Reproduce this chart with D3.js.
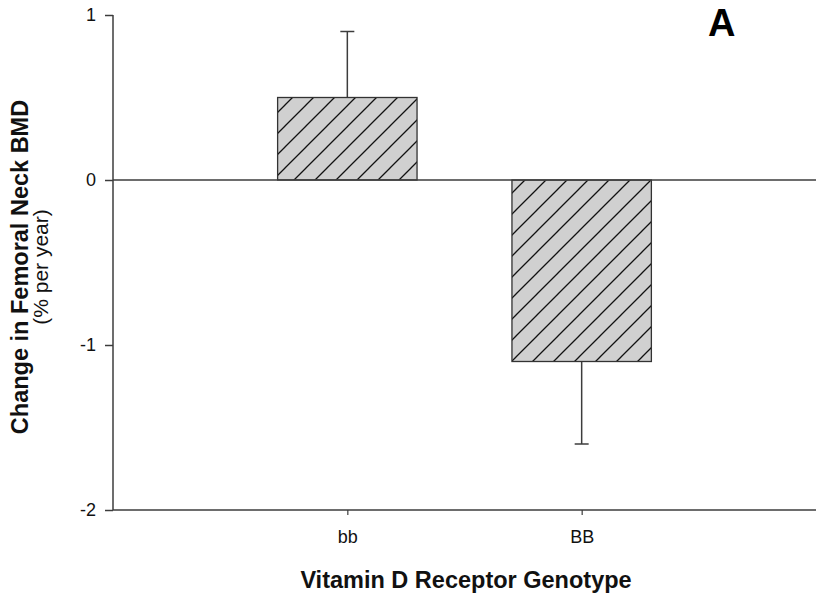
<!DOCTYPE html>
<html>
<head>
<meta charset="utf-8">
<script src="https://cdn.jsdelivr.net/npm/d3@7"></script>
<style>
  html, body { margin: 0; padding: 0; background: #fff; }
  svg { display: block; font-family: "Liberation Sans", Arial, Helvetica, sans-serif; }
</style>
</head>
<body>
<svg id="chart" width="816" height="597"></svg>
<script>
const categories = ["bb", "BB"];
const values = [0.5, -1.1];
const errors = [0.4, 0.5];
const yTicks = [-2, -1, 0, 1];
const yTickLabels = ["-2", "-1", "0", "1"];
const xTitle = "Vitamin D Receptor Genotype";
const yTitle = "Change in Femoral Neck BMD";
const ySubTitle = "(% per year)";
const panelLabel = "A";

(function () {
const svg = d3.select("#chart");
const mLeft = 113, mRight = 816, mTop = 15, mBottom = 510;
const axisColor = "#3c3c3c";

const x = d3.scalePoint().domain(categories).range([mLeft, mRight]).padding(1);
const y = d3.scaleLinear().domain([-2, 1]).range([mBottom, mTop]);
const barW = x.step() * 0.595;

// hatch pattern
const defs = svg.append("defs");
const pat = defs.append("pattern")
  .attr("id", "hatch").attr("patternUnits", "userSpaceOnUse")
  .attr("x", 12).attr("y", 0).attr("width", 21).attr("height", 21);
pat.append("rect").attr("width", 21).attr("height", 21).attr("fill", "#d0d0d0");
pat.append("path").attr("d", "M0,21 L21,0 M-5,5 L5,-5 M16,26 L26,16")
  .attr("stroke", "#111").attr("stroke-width", 1.3);

// error bars (one-sided, away from zero)
const eb = svg.append("g");
categories.forEach((c, i) => {
  const v = values[i], e = errors[i];
  const end = v >= 0 ? v + e : v - e;
  const cx = x(c);
  eb.append("line").attr("x1", cx).attr("x2", cx).attr("y1", y(v)).attr("y2", y(end))
    .attr("stroke", axisColor).attr("stroke-width", 1.5);
  eb.append("line").attr("x1", cx - 7).attr("x2", cx + 7).attr("y1", y(end)).attr("y2", y(end))
    .attr("stroke", axisColor).attr("stroke-width", 1.5);
});

// bars
svg.append("g").selectAll("rect").data(categories).join("rect")
  .attr("x", d => x(d) - barW / 2)
  .attr("width", barW)
  .attr("y", (d, i) => y(Math.max(0, values[i])))
  .attr("height", (d, i) => Math.abs(y(values[i]) - y(0)))
  .attr("fill", "url(#hatch)")
  .attr("stroke", "#333").attr("stroke-width", 1.3);

// zero line
svg.append("line").attr("x1", mLeft).attr("x2", mRight).attr("y1", y(0)).attr("y2", y(0))
  .attr("stroke", axisColor).attr("stroke-width", 1.5);

// y axis
const yAxis = svg.append("g").attr("transform", `translate(${mLeft},0)`)
  .call(d3.axisLeft(y).tickValues(yTicks).tickFormat((d, i) => yTickLabels[i]).tickSize(8).tickPadding(9));
yAxis.select(".domain").attr("d", `M0,${mTop}V${mBottom}`).attr("stroke", axisColor).attr("stroke-width", 1.5);
yAxis.selectAll(".tick line").attr("stroke", axisColor).attr("stroke-width", 1.5);
yAxis.selectAll(".tick text").attr("font-size", 18).attr("fill", "#111")
  .attr("font-family", "Liberation Sans, Arial, sans-serif");

// x axis
const xAxis = svg.append("g").attr("transform", `translate(0,${mBottom})`)
  .call(d3.axisBottom(x).tickSize(5).tickPadding(15));
xAxis.select(".domain").attr("d", `M${mLeft},0H${mRight}`).attr("stroke", axisColor).attr("stroke-width", 1.5);
xAxis.selectAll(".tick line").attr("stroke", axisColor).attr("stroke-width", 1.2);
xAxis.selectAll(".tick text").attr("font-size", 18).attr("fill", "#111")
  .attr("font-family", "Liberation Sans, Arial, sans-serif");

// x title
svg.append("text").attr("x", 466).attr("y", 588)
  .attr("text-anchor", "middle").attr("font-size", 23.5).attr("font-weight", "bold").attr("fill", "#111")
  .text(xTitle);

// y titles
svg.append("text").attr("transform", "translate(28,267) rotate(-90)")
  .attr("text-anchor", "middle").attr("font-size", 23.5).attr("font-weight", "bold").attr("fill", "#111")
  .text(yTitle);
svg.append("text").attr("transform", "translate(48,267) rotate(-90)")
  .attr("text-anchor", "middle").attr("font-size", 21).attr("fill", "#111")
  .text(ySubTitle);

// panel label
svg.append("text").attr("x", 708).attr("y", 36).attr("font-size", 38).attr("font-weight", "bold").attr("fill", "#000")
  .text(panelLabel);
})();
</script>
</body>
</html>
